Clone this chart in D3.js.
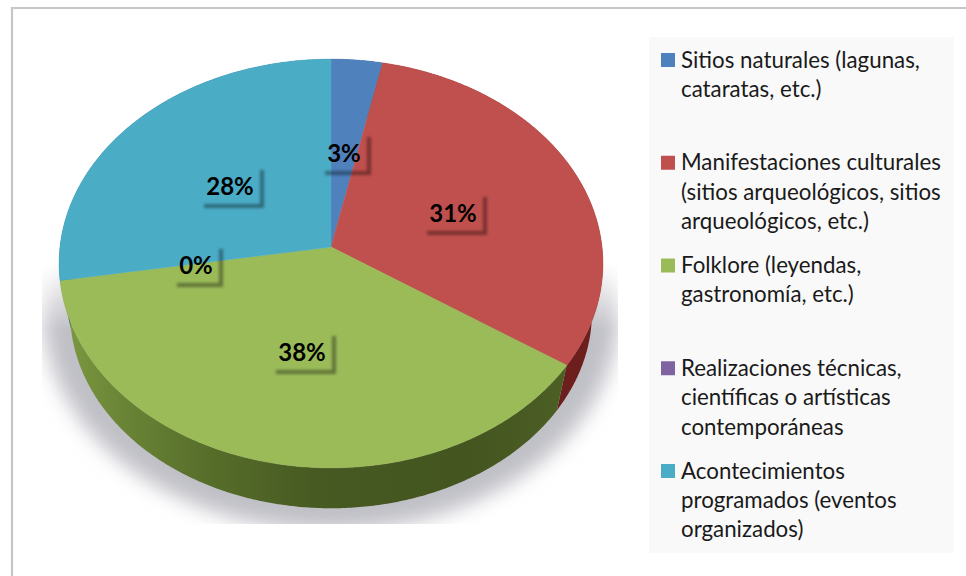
<!DOCTYPE html>
<html><head><meta charset="utf-8">
<script src="https://cdn.jsdelivr.net/npm/d3@7/dist/d3.min.js"></script>
<style>html,body{margin:0;background:#fff}svg{display:block}</style></head>
<body><div id="chart"></div>
<script>
const categories = [
  ["Sitios naturales (lagunas,", "cataratas, etc.)"],
  ["Manifestaciones culturales", "(sitios arqueológicos, sitios", "arqueológicos, etc.)"],
  ["Folklore (leyendas,", "gastronomía, etc.)"],
  ["Realizaciones técnicas,", "científicas o artísticas", "contemporáneas"],
  ["Acontecimientos", "programados (eventos", "organizados)"]
];
const values = [3.3, 31.1, 38.0, 0, 27.6];
const labels = ["3%", "31%", "38%", "0%", "28%"];
const colors = ["#4f81bd", "#c0504d", "#9bbb59", "#8064a2", "#4bacc6"];
const sideColors = ["#2f4d71", "#6d1f1d", "#4f6226", "#4d3b62", "#2d6c7d"];
const labelCentres = [[344,152],[453,212],[302,351],[196,264],[230,185]];

const W = 966, H = 576;
const svg = d3.select("#chart").append("svg").attr("width", W).attr("height", H);
const defs = svg.append("defs");
defs.append("filter").attr("id","shadow").attr("x","-20%").attr("y","-20%").attr("width","140%").attr("height","140%")
  .append("feGaussianBlur").attr("stdDeviation", 9);
defs.append("filter").attr("id","lblur").attr("filterUnits","userSpaceOnUse").attr("x",0).attr("y",0).attr("width",W).attr("height",H)
  .append("feGaussianBlur").attr("stdDeviation", 1.4);
defs.append("clipPath").attr("id","shclip").append("rect").attr("x",42).attr("y",230).attr("width",576).attr("height",294);
const fade = defs.append("linearGradient").attr("id","shfade").attr("gradientUnits","userSpaceOnUse").attr("x1",0).attr("x2",0).attr("y1",262).attr("y2",330);
fade.append("stop").attr("offset",0).attr("stop-color","#000");
fade.append("stop").attr("offset",1).attr("stop-color","#fff");
defs.append("mask").attr("id","shmask").attr("maskUnits","userSpaceOnUse").attr("x",0).attr("y",0).attr("width",W).attr("height",H)
  .append("rect").attr("width",W).attr("height",H).attr("fill","url(#shfade)");
const g1 = defs.append("linearGradient").attr("id","sideGreen").attr("x1",0).attr("x2",1).attr("y1",0).attr("y2",0);
[[0,"#7d9a42"],[0.12,"#6a8536"],[0.3,"#566d2a"],[0.5,"#475a22"],[0.8,"#445520"],[1,"#4c5f24"]].forEach(([o,c])=>g1.append("stop").attr("offset",o).attr("stop-color",c));

svg.append("path").attr("d",`M12,${H}V8H${W}`).attr("fill","none").attr("stroke","#c6c6c6").attr("stroke-width",2.2);
svg.append("rect").attr("x",649).attr("y",37).attr("width",305).attr("height",516).attr("fill","#f9f9f9");

// Tilted disc with perspective
const cx = 331, cy = 247, Rx = 271, Ry = 203, k = 0.0807, depth = 50, lowScale = 0.96;
const proj = (a, r, dz=0) => {
  const s = dz ? lowScale : 1;
  const u = Math.sin(a)*r*s, v = Math.cos(a)*r*s;
  const w = 1/(1 + k*v);
  return [cx + Rx*u*w, cy - Ry*v*w + dz];
};
const line = d3.line();
const pie = d3.pie().sort(null).value(d=>d)(values);
const arcSamples = (a0,a1) => { const n = Math.max(2, Math.ceil((a1-a0)/0.01)); return d3.range(n+1).map(i=>a0+(a1-a0)*i/n); };

// shadow
svg.append("g").attr("mask","url(#shmask)").append("g").attr("clip-path","url(#shclip)").append("path")
  .attr("d", line(arcSamples(0,2*Math.PI).map(a=>proj(a,1,depth)))+"Z")
  .attr("transform","translate(331,290) scale(1.1) translate(-331,-290)")
  .attr("fill","#bfbfc6").attr("filter","url(#shadow)");

// sides
pie.forEach((d,i)=>{
  if (d.endAngle<=d.startAngle) return;
  const as = arcSamples(d.startAngle,d.endAngle);
  const pts = as.map(a=>proj(a,1)).concat(as.slice().reverse().map(a=>proj(a,1,depth)));
  svg.append("path").attr("d",line(pts)+"Z")
    .attr("fill", i===2 ? "url(#sideGreen)" : sideColors[i]);
});
// top faces
pie.forEach((d,i)=>{
  if (d.endAngle<=d.startAngle) return;
  const pts = [proj(0,0)].concat(arcSamples(d.startAngle,d.endAngle).map(a=>proj(a,1)));
  svg.append("path").attr("d",line(pts)+"Z").attr("fill",colors[i]).attr("stroke",colors[i]).attr("stroke-width",0.5);
});
// data labels
labels.forEach((t,i)=>{
  const [x,y] = labelCentres[i];
  const bw = t.length===2 ? 44 : 58, bh = 36;
  const g = svg.append("g");
  g.append("path")
    .attr("d",`M${x-bw/2+3},${y+bh/2+3}H${x+bw/2+3}V${y-bh/2+3}`)
    .attr("fill","none").attr("stroke","#000").attr("stroke-width",4).attr("opacity",0.38).attr("filter","url(#lblur)");
  g.append("text").attr("x",x).attr("y",y).attr("text-anchor","middle").attr("dominant-baseline","central")
    .attr("font-family","Lato, Carlito, sans-serif").attr("font-weight",700).attr("font-size",24).attr("fill","#000").text(t);
});

// legend
const yItem = d3.scalePoint().domain(d3.range(categories.length)).range([60,471]);
categories.forEach((lines,i)=>{
  const y = yItem(i);
  svg.append("rect").attr("x",661).attr("y",y-7).attr("width",14).attr("height",14).attr("fill",colors[i]);
  lines.forEach((l,j)=>svg.append("text").attr("x",681).attr("y",y+j*29.4+7.5)
    .attr("font-family","Lato, Carlito, sans-serif").attr("font-size",22.3).attr("fill","#1a1a1a").text(l));
});
</script></body></html>
